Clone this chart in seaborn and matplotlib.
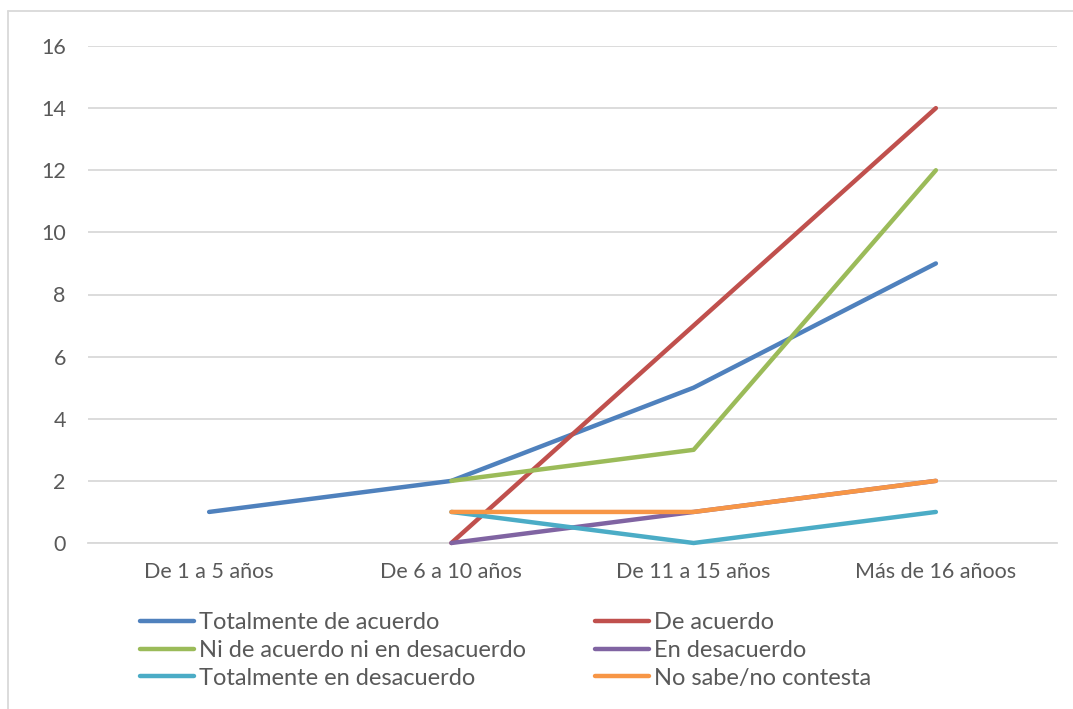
import pandas as pd
import numpy as np
import matplotlib
matplotlib.use('Agg')
import matplotlib.pyplot as plt
import seaborn as sns
from matplotlib.lines import Line2D

# Data
categories = ['De 1 a 5 años', 'De 6 a 10 años', 'De 11 a 15 años', 'Más de 16 añoos']
series_names = ['Totalmente de acuerdo', 'De acuerdo', 'Ni de acuerdo ni en desacuerdo',
                'En desacuerdo', 'Totalmente en desacuerdo', 'No sabe/no contesta']
totalmente_acuerdo = [1, 2, 5, 9]
de_acuerdo = [np.nan, 0, 7, 14]
ni_acuerdo = [np.nan, 2, 3, 12]
en_desacuerdo = [np.nan, 0, 1, 2]
totalmente_desacuerdo = [np.nan, 1, 0, 1]
no_sabe = [np.nan, 1, 1, 2]
y_ticks = [0, 2, 4, 6, 8, 10, 12, 14, 16]

colors = ['#4F81BD', '#C0504D', '#9BBB59', '#8064A2', '#4BACC6', '#F79646']
text_col = '#595959'
grid_col = '#D9D9D9'

values = [totalmente_acuerdo, de_acuerdo, ni_acuerdo, en_desacuerdo,
          totalmente_desacuerdo, no_sabe]
rows = []
for name, vals in zip(series_names, values):
    for cat, v in zip(categories, vals):
        rows.append({'categoria': cat, 'serie': name, 'valor': v})
df = pd.DataFrame(rows).dropna()
df['pos'] = df['categoria'].map({c: i for i, c in enumerate(categories)})

sns.set_style('white')
plt.rcParams['font.family'] = ['Lato', 'DejaVu Sans']

fig = plt.figure(figsize=(10.73, 7.09), dpi=100)
ax = fig.add_axes([88 / 1073, 1 - 543 / 709, (1057 - 88) / 1073, (543 - 46) / 709])

sns.lineplot(x='pos', y='valor', hue='serie', data=df, palette=colors,
             hue_order=series_names, linewidth=3.2, ax=ax, legend=False,
             solid_capstyle='round', solid_joinstyle='round', zorder=3)
for line in ax.lines:
    line.set_clip_on(False)

ax.set_xlim(-0.5, len(categories) - 0.5)
ax.set_ylim(0, 16)
ax.set_xticks(range(len(categories)))
ax.set_xticklabels(categories)
ax.set_yticks(y_ticks)
ax.set_xlabel('')
ax.set_ylabel('')
ax.tick_params(axis='both', length=0, labelsize=15.5, labelcolor=text_col)
ax.tick_params(axis='y', pad=16)
ax.tick_params(axis='x', pad=14)
ax.grid(axis='y', color=grid_col, linewidth=1.3)
ax.set_axisbelow(True)
for side in ['top', 'right', 'left']:
    ax.spines[side].set_visible(False)
ax.spines['bottom'].set_color(grid_col)
ax.spines['bottom'].set_linewidth(1.3)

# Legend below the plot, two columns
handles = [Line2D([0], [0], color=c, lw=3.2, solid_capstyle='round') for c in colors]
order = [0, 2, 4, 1, 3, 5]
fig.legend([handles[i] for i in order], [series_names[i] for i in order],
           ncol=2, loc='upper left', bbox_to_anchor=(140 / 1073, 1 - 612 / 709),
           frameon=False, fontsize=17, labelcolor=text_col, handlelength=2.3,
           handletextpad=0.2, columnspacing=2.9, labelspacing=0.29, borderpad=0,
           borderaxespad=0)

# Chart frame
fig.add_artist(Line2D([8 / 1073, 1.0], [1 - 11 / 709, 1 - 11 / 709], color=grid_col, lw=1.3))
fig.add_artist(Line2D([8 / 1073, 8 / 1073], [0, 1 - 11 / 709], color=grid_col, lw=1.3))

plt.savefig('out.png', dpi=100)
